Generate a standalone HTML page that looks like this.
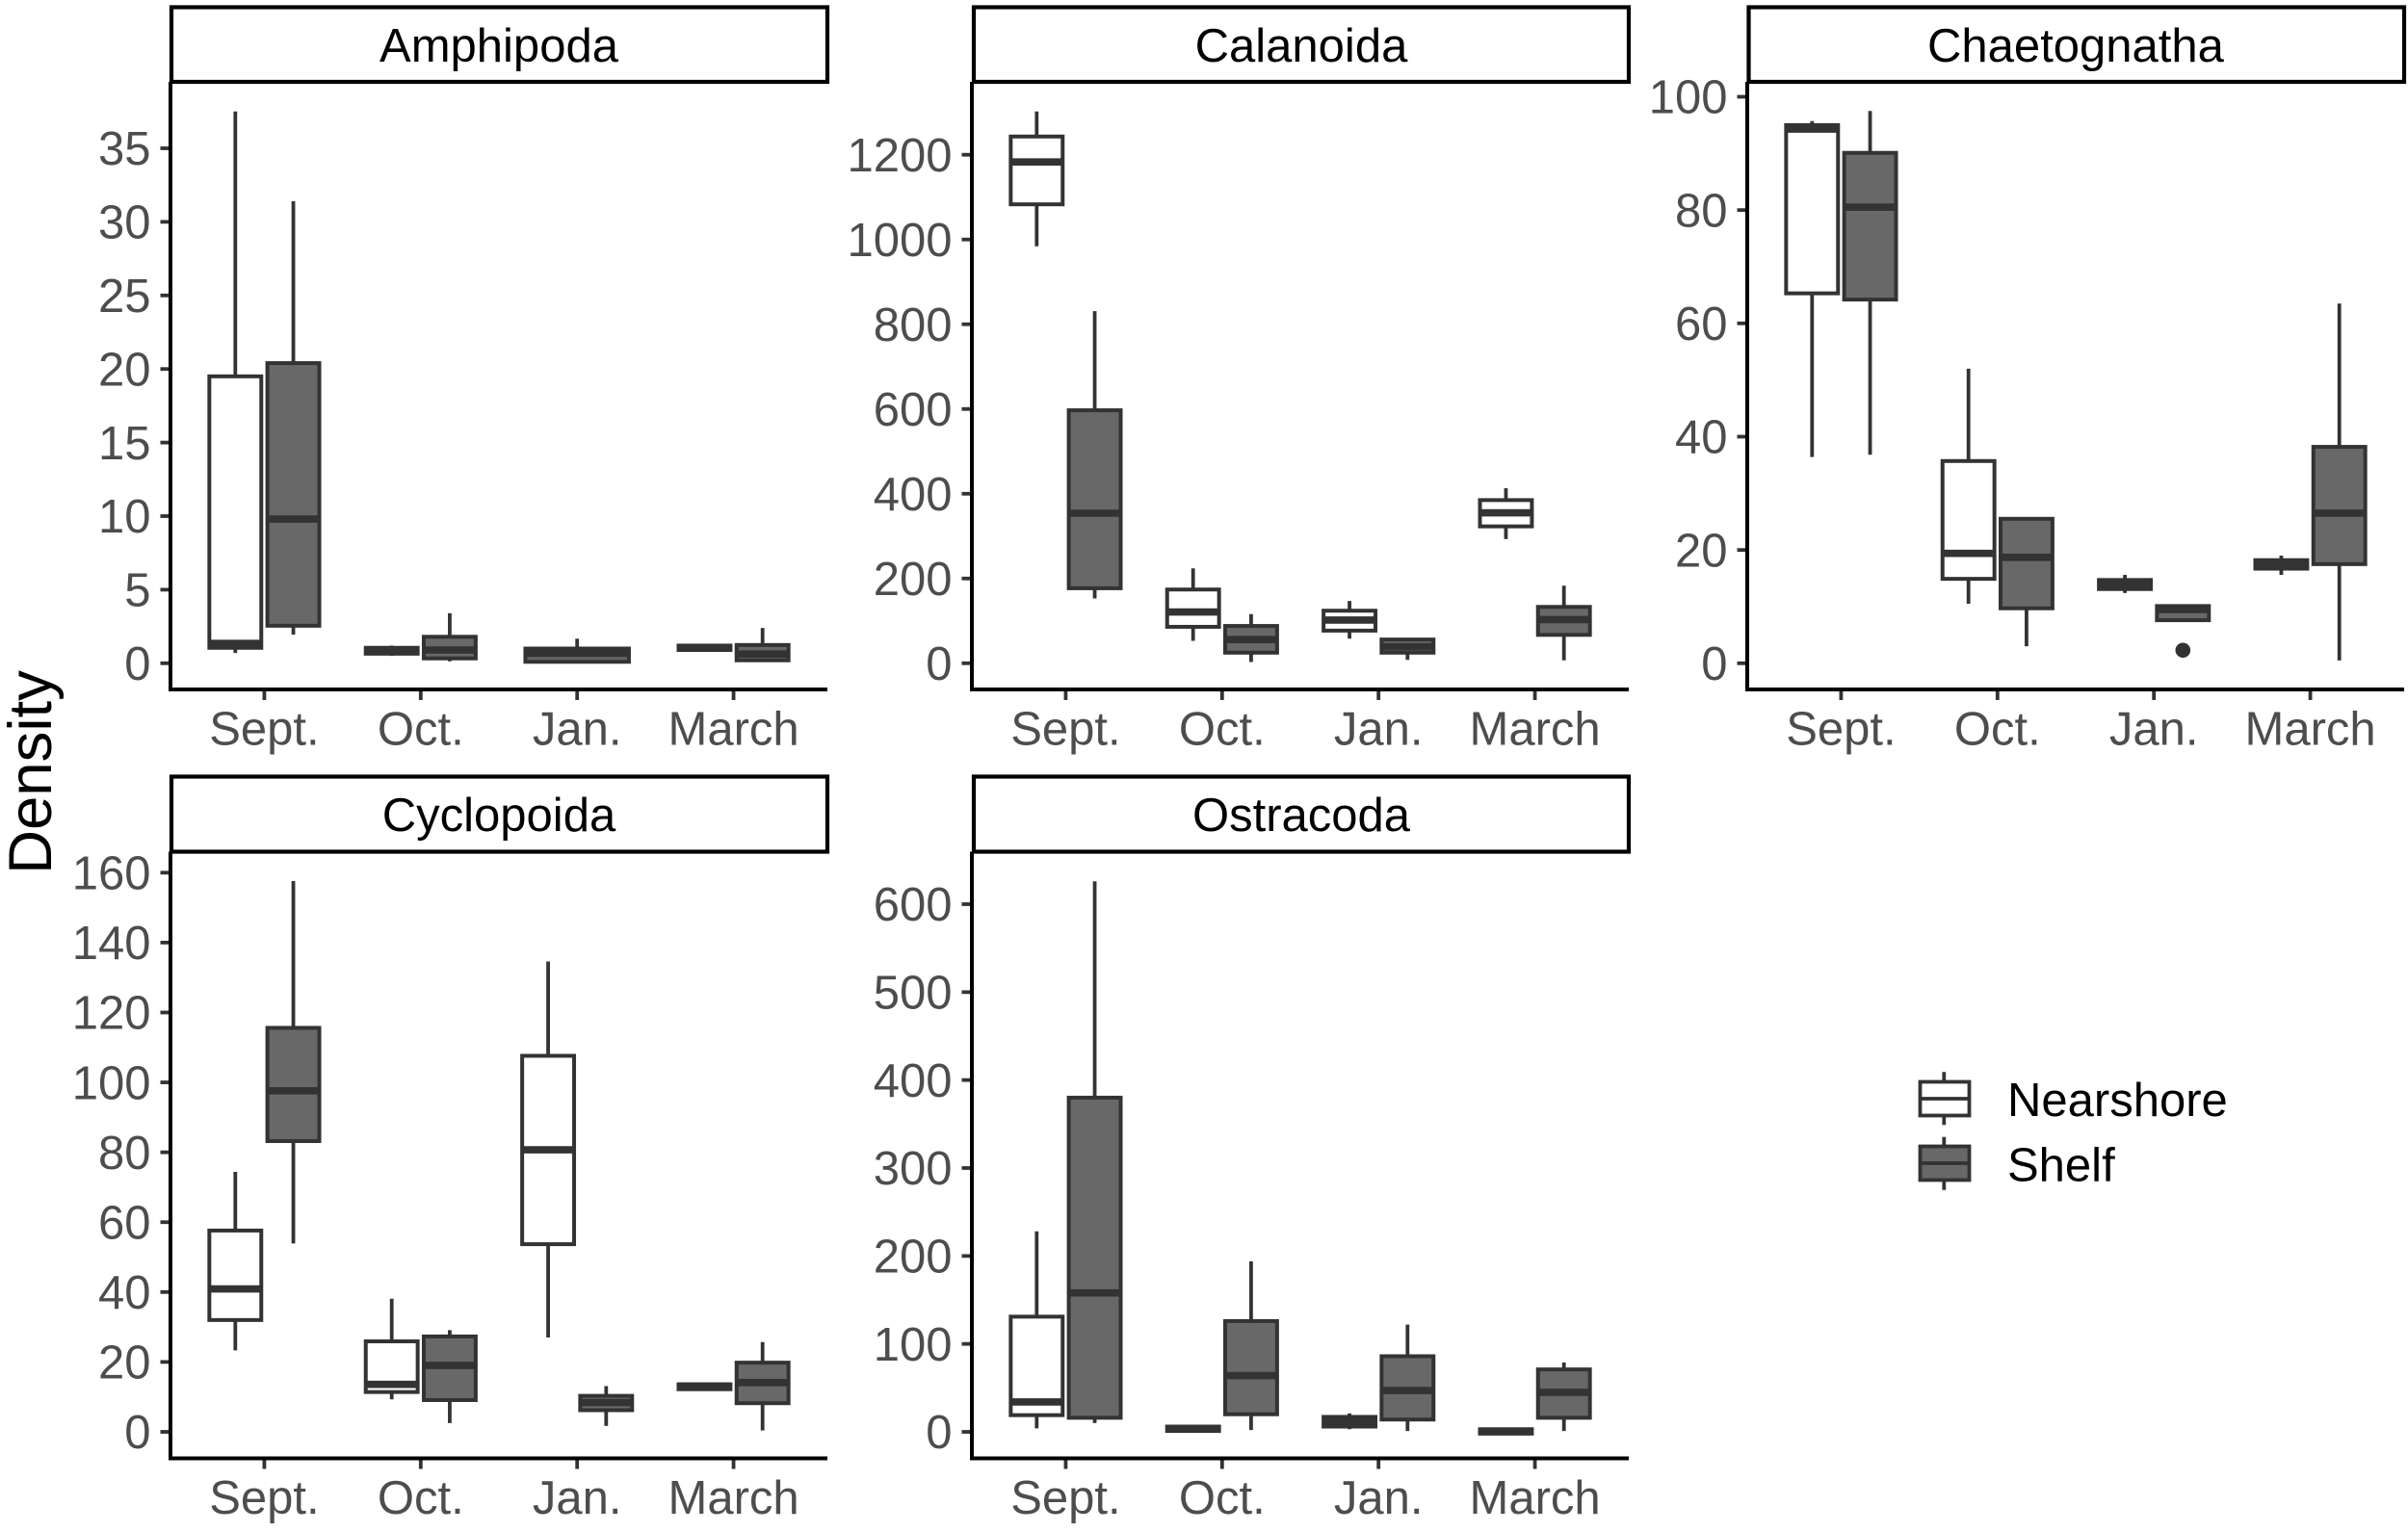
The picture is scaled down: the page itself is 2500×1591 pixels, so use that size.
<!DOCTYPE html>
<html lang="en">
<head>
<meta charset="utf-8">
<title>Density by month and habitat</title>
<style>
html,body{margin:0;padding:0;background:#fff;width:2500px;height:1591px;overflow:hidden}
svg{display:block}
text{font-family:"Liberation Sans",Arial,sans-serif}
.strip-box{fill:#fff;stroke:#000;stroke-width:4.2}
.strip-label{font-size:49px;fill:#000;text-anchor:middle}
.legend-label{font-size:49px;fill:#000}
</style>
</head>
<body>
<svg id="chart" xmlns="http://www.w3.org/2000/svg" width="2500" height="1591" viewBox="0 0 2500 1591">
  <rect x="0" y="0" width="2500" height="1591" fill="#fff"/>
  <text transform="translate(53,802) rotate(-90)" text-anchor="middle" font-size="63.5" fill="#000">Density</text>

  <g>
    <rect class="strip-box" x="178" y="7.5" width="681" height="77.5"/>
    <text class="strip-label" x="518" y="64">Amphipoda</text>
  </g>
  <g>
    <rect class="strip-box" x="1011" y="7.5" width="680" height="77.5"/>
    <text class="strip-label" x="1351" y="64">Calanoida</text>
  </g>
  <g>
    <rect class="strip-box" x="1815.5" y="7.5" width="680.5" height="77.5"/>
    <text class="strip-label" x="2155" y="64">Chaetognatha</text>
  </g>
  <g>
    <rect class="strip-box" x="178" y="806.5" width="681" height="78"/>
    <text class="strip-label" x="518" y="863">Cyclopoida</text>
  </g>
  <g>
    <rect class="strip-box" x="1011" y="806.5" width="680" height="78"/>
    <text class="strip-label" x="1351" y="863">Ostracoda</text>
  </g>

  <g id="panels"></g>

  <g>
    <g>
      <line x1="2018.3" x2="2018.3" y1="1113.3" y2="1168.3" stroke="#333" stroke-width="3.8"/>
      <rect x="1993.5" y="1123.5" width="51" height="35" fill="#fff" stroke="#333" stroke-width="3.8"/>
      <line x1="1993.5" x2="2044.5" y1="1141" y2="1141" stroke="#333" stroke-width="3.8"/>
      <text class="legend-label" x="2084" y="1159">Nearshore</text>
    </g>
    <g>
      <line x1="2018.3" x2="2018.3" y1="1180.7" y2="1235.7" stroke="#333" stroke-width="3.8"/>
      <rect x="1993.5" y="1190.5" width="51" height="35" fill="#686868" stroke="#333" stroke-width="3.8"/>
      <line x1="1993.5" x2="2044.5" y1="1208" y2="1208" stroke="#333" stroke-width="3.8"/>
      <text class="legend-label" x="2084" y="1226.5">Shelf</text>
    </g>
  </g>
</svg>
<script>
// Shared categories
const categories = ['Sept.', 'Oct.', 'Jan.', 'March'];

// Each row: [lower whisker, Q1, median, Q3, upper whisker]; one row per category
const amphipodaNearshore = [[0.7, 1.05, 1.35, 19.5, 37.5], [0.5, 0.65, 0.9, 1.05, 1.2], null, [0.9, 0.9, 1.07, 1.2, 1.2]];
const amphipodaShelf = [[1.95, 2.55, 9.8, 20.4, 31.4], [0.13, 0.33, 0.9, 1.8, 3.4], [0.1, 0.1, 0.67, 1.0, 1.67], [0.13, 0.2, 0.63, 1.24, 2.4]];
const amphipodaTicks = [0, 5, 10, 15, 20, 25, 30, 35];

const calanoidaNearshore = [[984, 1083, 1183, 1243, 1302], [53, 86, 121, 174, 224], [58, 77, 102, 124, 147], [293, 323, 355, 385, 413]];
const calanoidaShelf = [[153, 177, 354, 597, 831], [3, 25, 56, 88, 116], [8, 25, 39, 56, 56], [7, 67, 103, 133, 183]];
const calanoidaTicks = [0, 200, 400, 600, 800, 1000, 1200];

const chaetognathaNearshore = [[36.4, 65.3, 94.3, 95, 95.7], [10.5, 14.9, 19.4, 35.7, 52], [12.4, 13.1, 13.9, 14.7, 15.6], [15.6, 16.7, 17.4, 18.2, 19]];
const chaetognathaShelf = [[36.8, 64.2, 80.5, 90.1, 97.5], [3, 9.7, 18.7, 25.5, 25.5], [7.6, 7.6, 9.5, 10.1, 10.1], [0.5, 17.5, 26.5, 38.2, 63.5]];
const chaetognathaTicks = [0, 20, 40, 60, 80, 100];
const chaetognathaShelfOutliers = [[2, 2.3]]; // [category index, value]

const cyclopoidaNearshore = [[23.3, 32, 40.9, 57.6, 74.4], [9.3, 11.4, 13.6, 25.9, 38.1], [27, 53.7, 80.7, 107.6, 134.6], [12.2, 12.2, 13.1, 13.6, 13.6]];
const cyclopoidaShelf = [[53.9, 83.2, 97.6, 115.6, 157.6], [2.5, 9.1, 19, 27.3, 29.1], [1.7, 6.2, 8.4, 10.3, 13.1], [0.4, 8.2, 14.1, 19.8, 25.7]];
const cyclopoidaTicks = [0, 20, 40, 60, 80, 100, 120, 140, 160];

const ostracodaNearshore = [[4, 19, 34, 131, 228], [1, 1, 3.4, 6, 6], [3, 6, 12, 17, 21], [-2, -2, 0.6, 3, 3]];
const ostracodaShelf = [[10, 16, 158, 380, 626], [2, 20, 64, 126, 194], [1, 14, 47, 86, 122], [1, 16, 45, 71, 79]];
const ostracodaTicks = [0, 100, 200, 300, 400, 500, 600];

const panels = [
  {key: 'amphipoda', near: amphipodaNearshore, shelf: amphipodaShelf, ticks: amphipodaTicks, outliers: [],
   left: 177, right: 859, top: 85, bottom: 716, zero: 688.8, top0: 154, topVal: 35},
  {key: 'calanoida', near: calanoidaNearshore, shelf: calanoidaShelf, ticks: calanoidaTicks, outliers: [],
   left: 1009, right: 1691, top: 85, bottom: 716, zero: 688.8, top0: 160.7, topVal: 1200},
  {key: 'chaetognatha', near: chaetognathaNearshore, shelf: chaetognathaShelf, ticks: chaetognathaTicks, outliers: chaetognathaShelfOutliers,
   left: 1814, right: 2496, top: 85, bottom: 716, zero: 688.8, top0: 100.5, topVal: 100},
  {key: 'cyclopoida', near: cyclopoidaNearshore, shelf: cyclopoidaShelf, ticks: cyclopoidaTicks, outliers: [],
   left: 177, right: 859, top: 884.5, bottom: 1514.5, zero: 1487, top0: 906.3, topVal: 160},
  {key: 'ostracoda', near: ostracodaNearshore, shelf: ostracodaShelf, ticks: ostracodaTicks, outliers: [],
   left: 1009, right: 1691, top: 884.5, bottom: 1514.5, zero: 1487, top0: 939, topVal: 600}
];

const SVG_NS = 'http://www.w3.org/2000/svg';
const INK = '#333333';
const SHELF_FILL = '#686868';
const NEAR_FILL = '#ffffff';

function make(tag, attrs, parent) {
  const el = document.createElementNS(SVG_NS, tag);
  for (const k in attrs) el.setAttribute(k, attrs[k]);
  parent.appendChild(el);
  return el;
}

function bandOf(p) { return (p.right - p.left) / 4.2; }
function xScale(p, i) { return p.left + (i + 0.6) * bandOf(p); }
function yScale(p, v) { return p.zero - (v / p.topVal) * (p.zero - p.top0); }

function drawBox(group, p, row, cx, w, fill, name) {
  const g = make('g', {}, group);
  
  

  const whisker = make('line', {x1: cx, x2: cx, y1: yScale(p, row[4]), y2: yScale(p, row[0]), stroke: INK, 'stroke-width': 3.8}, g);
  
  

  const yTop = yScale(p, row[3]);
  const yBottom = yScale(p, row[1]);
  const box = make('rect', {x: cx - w / 2, y: yTop, width: w, height: yBottom - yTop, fill: fill, stroke: INK, 'stroke-width': 4}, g);
  
  

  const yMed = yScale(p, row[2]);
  const median = make('line', {x1: cx - w / 2, x2: cx + w / 2, y1: yMed, y2: yMed, stroke: INK, 'stroke-width': 7.6}, g);
  
  
}

function drawPanel(p, root) {
  const group = make('g', {}, root);
  
  

  const band = bandOf(p);
  const offset = 0.1855 * band;
  const boxW = 0.332 * band;
  const soloW = 0.662 * band;

  // y ticks and labels
  p.ticks.forEach(function (t) {
    const y = yScale(p, t);
    const tick = make('line', {x1: p.left - 10.5, x2: p.left, y1: y, y2: y, stroke: INK, 'stroke-width': 3.8}, group);
    
    
    const label = make('text', {x: p.left - 20.5, y: y + 17.2, 'text-anchor': 'end', 'font-size': 49, fill: '#4d4d4d'}, group);
    
    
    label.textContent = String(t);
  });

  // x ticks and labels
  categories.forEach(function (c, i) {
    const x = xScale(p, i);
    const tick = make('line', {x1: x, x2: x, y1: p.bottom, y2: p.bottom + 11, stroke: INK, 'stroke-width': 3.8}, group);
    
    
    const label = make('text', {x: x, y: p.bottom + 57.5, 'text-anchor': 'middle', 'font-size': 49, fill: '#4d4d4d'}, group);
    
    
    label.textContent = c;
  });

  // boxes
  categories.forEach(function (c, i) {
    const x = xScale(p, i);
    const n = p.near[i];
    const s = p.shelf[i];
    if (n && s) {
      drawBox(group, p, n, x - offset, boxW, NEAR_FILL, 'box-nearshore-' + i);
      drawBox(group, p, s, x + offset, boxW, SHELF_FILL, 'box-shelf-' + i);
    } else if (n) {
      drawBox(group, p, n, x, soloW, NEAR_FILL, 'box-nearshore-' + i);
    } else if (s) {
      drawBox(group, p, s, x, soloW, SHELF_FILL, 'box-shelf-' + i);
    }
  });

  // outliers (shelf series)
  p.outliers.forEach(function (o) {
    const dot = make('circle', {cx: xScale(p, o[0]) + offset, cy: yScale(p, o[1]), r: 7.8, fill: INK}, group);
    
    
  });

  // axis lines
  const yAxis = make('line', {x1: p.left, x2: p.left, y1: p.top, y2: p.bottom + 2, stroke: '#000', 'stroke-width': 4}, group);
  
  
  const xAxis = make('line', {x1: p.left, x2: p.right, y1: p.bottom, y2: p.bottom, stroke: '#000', 'stroke-width': 4}, group);
  
  
}

const root = document.getElementById('panels');
panels.forEach(function (p) { drawPanel(p, root); });
</script>
</body>
</html>
